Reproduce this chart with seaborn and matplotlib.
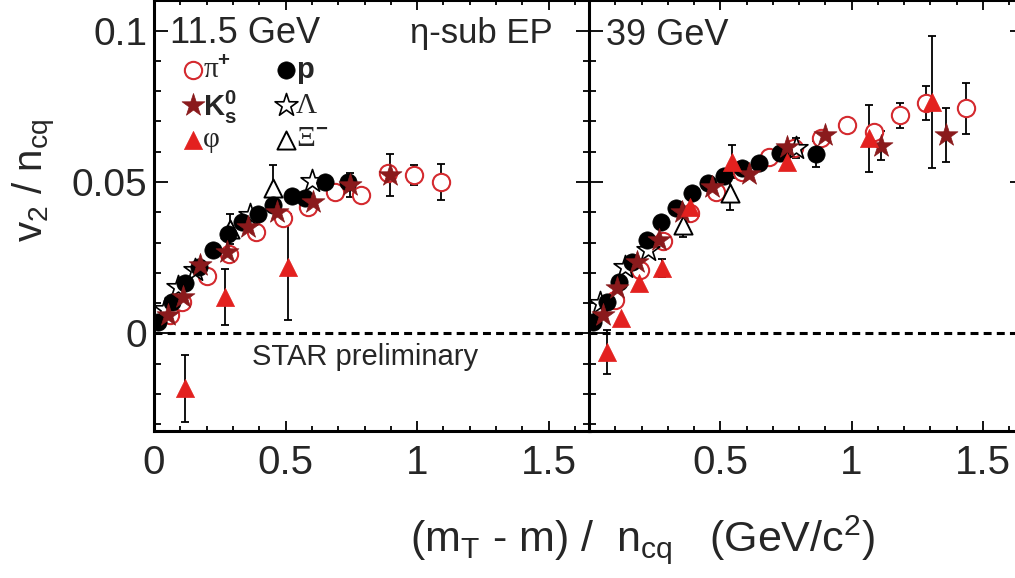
import numpy as np
import pandas as pd
import matplotlib
matplotlib.use("Agg")
import matplotlib.pyplot as plt
import seaborn as sns
from matplotlib.ticker import MultipleLocator, FixedLocator, FuncFormatter

sns.set_theme(style="white")
plt.rcParams['font.family'] = ['Liberation Sans', 'DejaVu Sans']
plt.rcParams['mathtext.fontset'] = 'custom'
plt.rcParams['mathtext.rm'] = 'Liberation Sans'
plt.rcParams['mathtext.it'] = 'Liberation Sans:italic'
plt.rcParams['mathtext.bf'] = 'Liberation Sans:bold'
plt.rcParams['mathtext.sf'] = 'Liberation Serif'

# ---------------- data : 11.5 GeV ----------------
pi_x_11 = [0.06, 0.105, 0.20, 0.285, 0.387, 0.489, 0.586, 0.689, 0.785, 0.891, 0.989, 1.089]
pi_y_11 = [0.006, 0.0105, 0.019, 0.0262, 0.0336, 0.038, 0.0418, 0.0468, 0.0457, 0.0529, 0.0523, 0.0501]
pi_e_11 = [0, 0, 0, 0, 0, 0, 0, 0, 0, 0, 0.0032, 0.006]

k0_x_11 = [0.054, 0.111, 0.175, 0.276, 0.358, 0.466, 0.605, 0.744, 0.896]
k0_y_11 = [0.0061, 0.0121, 0.0226, 0.027, 0.0352, 0.0402, 0.0435, 0.049, 0.0523]
k0_e_11 = [0, 0, 0, 0, 0, 0, 0, 0.004, 0.007]

p_x_11 = [0.016, 0.067, 0.118, 0.17, 0.225, 0.282, 0.333, 0.396, 0.453, 0.523, 0.573, 0.65, 0.738]
p_y_11 = [0.0039, 0.0105, 0.0166, 0.022, 0.0276, 0.033, 0.0369, 0.0394, 0.0424, 0.0455, 0.0446, 0.0501, 0.0501]
p_e_11 = [0, 0, 0, 0, 0, 0, 0, 0, 0, 0, 0, 0, 0]

la_x_11 = [0.04, 0.092, 0.156, 0.365, 0.599]
la_y_11 = [0.008, 0.0154, 0.021, 0.039, 0.0504]
la_e_11 = [0, 0, 0, 0, 0]

xi_x_11 = [0.29, 0.451]
xi_y_11 = [0.0345, 0.0479]
xi_e_11 = [0.005, 0.0077]

phi_x_11 = [0.118, 0.27, 0.508]
phi_y_11 = [-0.0181, 0.0121, 0.022]
phi_e_11 = [0.011, 0.0092, 0.0175]

# ---------------- data : 39 GeV ----------------
pi_x_39 = [0.099, 0.195, 0.281, 0.385, 0.485, 0.583, 0.684, 0.782, 0.882, 0.983, 1.085, 1.184, 1.283, 1.435]
pi_y_39 = [0.011, 0.021, 0.0306, 0.0397, 0.0468, 0.0534, 0.0583, 0.0611, 0.0647, 0.0688, 0.0666, 0.0721, 0.076, 0.0743]
pi_e_39 = [0, 0, 0, 0, 0, 0, 0, 0, 0, 0, 0, 0.0041, 0.0056, 0.0083]

k0_x_39 = [0.055, 0.106, 0.182, 0.265, 0.354, 0.468, 0.608, 0.755, 0.90, 1.111, 1.361]
k0_y_39 = [0.0061, 0.0149, 0.0237, 0.0309, 0.0402, 0.0482, 0.0526, 0.0617, 0.0655, 0.062, 0.0655]
k0_e_39 = [0, 0, 0, 0, 0, 0, 0, 0, 0, 0.0048, 0.009]

p_x_39 = [0.016, 0.07, 0.115, 0.165, 0.222, 0.274, 0.331, 0.394, 0.452, 0.515, 0.583, 0.646, 0.729, 0.866]
p_y_39 = [0.0039, 0.0105, 0.0171, 0.0237, 0.0309, 0.0369, 0.0413, 0.0463, 0.0496, 0.052, 0.0545, 0.0562, 0.0595, 0.0593]
p_e_39 = [0, 0, 0, 0, 0, 0, 0, 0, 0, 0, 0, 0, 0, 0.0044]

la_x_39 = [0.042, 0.137, 0.226, 0.787]
la_y_39 = [0.0101, 0.022, 0.0276, 0.0612]
la_e_39 = [0, 0, 0, 0.0033]

xi_x_39 = [0.358, 0.536]
xi_y_39 = [0.0358, 0.0463]
xi_e_39 = [0.004, 0.0055]

phi_x_39 = [0.069, 0.12, 0.192, 0.279, 0.385, 0.545, 0.755, 1.067, 1.305]
phi_y_39 = [-0.006, 0.005, 0.0166, 0.0215, 0.0418, 0.0567, 0.0567, 0.0644, 0.0765]
phi_e_39 = [0.0073, 0, 0, 0.003, 0, 0.0055, 0.0025, 0.011, 0.0218]

x_ticks_left = [0, 0.5, 1, 1.5]
x_ticks_right = [0.5, 1, 1.5]
y_ticks = [0, 0.05, 0.1]

# ---------------- styles ----------------
RED = '#e3211f'
PI_RED = '#d42a2f'
DARK = '#8a1a1c'
styles = {
    'pi':  dict(marker='o', s=155, color='white', edgecolor=PI_RED, linewidth=1.5, zorder=4),
    'la':  dict(marker='*', s=300, color='white', edgecolor='black', linewidth=1.2, zorder=4),
    'xi':  dict(marker='^', s=170, color='white', edgecolor='black', linewidth=1.4, zorder=4),
    'p':   dict(marker='o', s=155, color='black', edgecolor='black', linewidth=0.5, zorder=5),
    'k0':  dict(marker='*', s=300, color=DARK, edgecolor=DARK, linewidth=0.5, zorder=6),
    'phi': dict(marker='^', s=170, color=RED, edgecolor=RED, linewidth=0.5, zorder=7),
}

W, H = 1015, 578
fig = plt.figure(figsize=(W / 100, H / 100), dpi=100)
bot = 1 - 431 / H
hgt = 431 / H
ax1 = fig.add_axes([154 / W, bot, 436 / W, hgt])
ax2 = fig.add_axes([589 / W, bot, 435 / W, hgt])

panels = [
    (ax1, {'pi': (pi_x_11, pi_y_11, pi_e_11), 'la': (la_x_11, la_y_11, la_e_11),
           'xi': (xi_x_11, xi_y_11, xi_e_11), 'p': (p_x_11, p_y_11, p_e_11),
           'k0': (k0_x_11, k0_y_11, k0_e_11), 'phi': (phi_x_11, phi_y_11, phi_e_11)}),
    (ax2, {'pi': (pi_x_39, pi_y_39, pi_e_39), 'la': (la_x_39, la_y_39, la_e_39),
           'xi': (xi_x_39, xi_y_39, xi_e_39), 'p': (p_x_39, p_y_39, p_e_39),
           'k0': (k0_x_39, k0_y_39, k0_e_39), 'phi': (phi_x_39, phi_y_39, phi_e_39)}),
]

for ax, series in panels:
    ax.axhline(0, color='black', lw=2.2, ls=(0, (2.6, 1.7)), zorder=1)
    for key, (xs, ys, es) in series.items():
        xs = np.asarray(xs); ys = np.asarray(ys); es = np.asarray(es)
        m = es > 0
        if m.any():
            ax.errorbar(xs[m], ys[m], yerr=es[m], fmt='none', ecolor='black',
                        elinewidth=1.3, capsize=3.2, capthick=1.3, zorder=2)
        st = dict(styles[key])
        sns.scatterplot(x=xs, y=ys, ax=ax, legend=False, **st)
    ax.set_xlim(0, 1.657)
    ax.set_ylim(-0.0322, 0.1101)
    ax.set_xlabel('')
    ax.set_ylabel('')
    for sp in ax.spines.values():
        sp.set_visible(True)
        sp.set_color('black')
        sp.set_linewidth(2.2)
    ax.xaxis.set_minor_locator(MultipleLocator(0.1))
    ax.yaxis.set_major_locator(FixedLocator(y_ticks))
    ax.yaxis.set_minor_locator(MultipleLocator(0.01))
    ax.tick_params(axis='x', which='both', direction='in', top=True, bottom=True,
                   color='black', width=1.3, labelsize=29, pad=9)
    ax.tick_params(axis='x', which='major', length=7.5)
    ax.tick_params(axis='x', which='minor', length=3.8)
    ax.tick_params(axis='y', which='both', direction='in', left=True, right=True,
                   color='black', width=1.3, labelsize=28, pad=5)
    ax.tick_params(axis='y', which='major', length=10)
    ax.tick_params(axis='y', which='minor', length=5)
    ax.set_facecolor('white')

fmt = FuncFormatter(lambda v, p: '%g' % v)
ax1.xaxis.set_major_locator(FixedLocator(x_ticks_left))
ax2.xaxis.set_major_locator(FixedLocator(x_ticks_right))
ax1.xaxis.set_major_formatter(fmt)
ax2.xaxis.set_major_formatter(fmt)
ax1.yaxis.set_major_formatter(fmt)
ax2.tick_params(axis='y', labelleft=False)


def fx(px):
    return px / W


def fy(py):
    return 1 - py / H


# panel titles
fig.text(fx(170), fy(43), '11.5 GeV', fontsize=26, va='baseline', ha='left')
fig.text(fx(553), fy(43), 'η-sub EP', fontsize=25, va='baseline', ha='right')
fig.text(fx(606), fy(45), '39 GeV', fontsize=26, va='baseline', ha='left')
fig.text(fx(365), fy(357), 'STAR preliminary', fontsize=21, va='center', ha='center')

# axis labels
fig.text(fx(35), fy(180), r'$\mathregular{v_2\ /\ n_{cq}}$', rotation=90,
         fontsize=29, ha='center', va='center')
fig.text(fx(643), fy(540), r'(m$_\mathregular{T}$ - m) /  n$_\mathregular{cq}$   (GeV/c$^\mathregular{2}$)',
         fontsize=31, ha='center', va='center')

# legend (manual, in figure pixels)
leg_ax = ax1
def leg_marker(px, py, key):
    st = dict(styles[key])
    st.pop('zorder')
    leg_ax.scatter([fx(px)], [fy(py)], transform=fig.transFigure, zorder=10,
                   clip_on=False, **{('c' if k == 'color' else k): v for k, v in st.items()})

SERIF = ['Liberation Serif', 'DejaVu Serif']
leg_marker(193, 70, 'pi')
fig.text(fx(203), fy(70), r'$\mathsf{\pi}^{\mathbf{+}}$', fontsize=21, va='center', ha='left')
leg_marker(193, 105, 'k0')
fig.text(fx(203), fy(107), r'$\mathbf{K^{0}_{s}}$', fontsize=21, va='center', ha='left')
leg_marker(193, 140, 'phi')
fig.text(fx(203), fy(140), 'φ', fontsize=21, family=SERIF, va='center', ha='left')

leg_marker(286, 70, 'p')
fig.text(fx(296), fy(70), 'p', fontsize=21, weight='bold', va='center', ha='left')
leg_marker(286, 105, 'la')
fig.text(fx(296), fy(106), 'Λ', fontsize=21, family=SERIF, va='center', ha='left')
leg_marker(286, 140, 'xi')
fig.text(fx(296), fy(139), r'$\mathsf{\Xi}^{\mathbf{-}}$', fontsize=21, va='center', ha='left')

fig.savefig('out.png', dpi=100, facecolor='white')
